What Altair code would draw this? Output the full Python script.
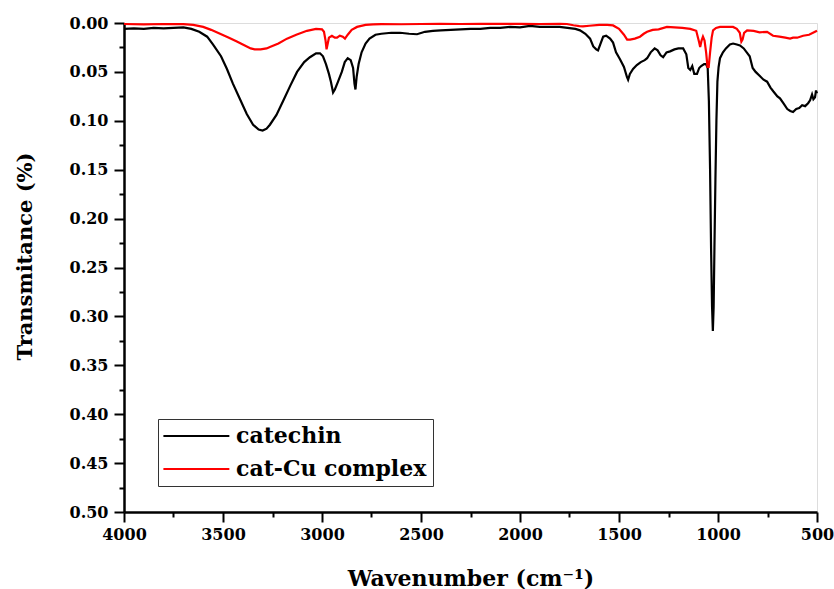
import altair as alt
import pandas as pd

# catechin spectrum (wavenumber, transmitance)
cat_wn = [4000, 3950, 3900, 3850, 3800, 3750, 3700, 3660, 3620, 3580, 3550, 3510, 3480, 3450, 3414, 3380,
          3348, 3320, 3300, 3280, 3263, 3230, 3197, 3160, 3126, 3090, 3061, 3030, 3010, 2995, 2980, 2965,
          2955, 2944, 2935, 2919, 2900, 2885, 2870, 2855, 2843, 2836, 2831, 2825, 2815, 2800, 2780, 2760,
          2730, 2700, 2650, 2606, 2560, 2520, 2480, 2440, 2400, 2350, 2300, 2250, 2200, 2150, 2100, 2050,
          2000, 1950, 1900, 1850, 1800, 1760, 1720, 1697, 1670, 1646, 1630, 1615, 1606, 1595, 1580, 1565,
          1545, 1530, 1515, 1495, 1475, 1460, 1454, 1445, 1429, 1410, 1390, 1370, 1358, 1340, 1320, 1305,
          1290, 1277, 1260, 1242, 1220, 1200, 1176, 1160, 1150, 1140, 1130, 1120, 1106, 1095, 1085, 1070,
          1060, 1052, 1046, 1040, 1035, 1030, 1026, 1022, 1018, 1013, 1008, 1003, 997, 990, 975, 960,
          940, 924, 905, 889, 870, 855, 840, 825, 810, 790, 770, 752, 735, 720, 700, 687,
          670, 650, 635, 621, 605, 590, 575, 560, 545, 535, 525, 518, 510, 505, 500]
cat_t = [0.006, 0.0055, 0.006, 0.005, 0.0055, 0.005, 0.0045, 0.006, 0.009, 0.014, 0.022, 0.034, 0.047, 0.062, 0.078, 0.093,
         0.104, 0.109, 0.110, 0.108, 0.104, 0.094, 0.080, 0.064, 0.050, 0.040, 0.035, 0.031, 0.031, 0.034, 0.042, 0.052,
         0.060, 0.071, 0.068, 0.060, 0.050, 0.040, 0.036, 0.038, 0.046, 0.062, 0.068, 0.055, 0.042, 0.030, 0.021, 0.016,
         0.012, 0.011, 0.010, 0.010, 0.011, 0.0115, 0.009, 0.008, 0.0075, 0.007, 0.0065, 0.006, 0.006, 0.005, 0.005, 0.004,
         0.0045, 0.003, 0.004, 0.004, 0.004, 0.005, 0.006, 0.0075, 0.011, 0.016, 0.024, 0.027, 0.028, 0.022, 0.014, 0.013,
         0.016, 0.020, 0.030, 0.037, 0.045, 0.055, 0.058, 0.052, 0.047, 0.043, 0.040, 0.038, 0.036, 0.030, 0.026, 0.028,
         0.033, 0.035, 0.030, 0.029, 0.027, 0.026, 0.026, 0.032, 0.046, 0.048, 0.044, 0.052, 0.052, 0.046, 0.044, 0.042,
         0.042, 0.046, 0.080, 0.150, 0.230, 0.290, 0.315, 0.290, 0.230, 0.160, 0.100, 0.060, 0.045, 0.036, 0.030, 0.026,
         0.022, 0.021, 0.022, 0.023, 0.026, 0.030, 0.034, 0.046, 0.050, 0.054, 0.058, 0.060, 0.066, 0.070, 0.075, 0.077,
         0.082, 0.088, 0.090, 0.091, 0.088, 0.087, 0.084, 0.085, 0.082, 0.079, 0.073, 0.078, 0.076, 0.069, 0.072]

# cat-Cu complex spectrum
cu_wn = [4000, 3900, 3800, 3700, 3650, 3600, 3560, 3515, 3470, 3430, 3390, 3360, 3340, 3310, 3280, 3263,
         3220, 3177, 3130, 3076, 3030, 3000, 2990, 2982, 2977, 2972, 2965, 2950, 2935, 2924, 2910, 2895,
         2884, 2870, 2850, 2823, 2780, 2742, 2700, 2600, 2500, 2404, 2300, 2200, 2100, 2000, 1900, 1800,
         1763, 1730, 1700, 1682, 1650, 1600, 1560, 1530, 1500, 1475, 1459, 1444, 1420, 1394, 1375, 1358,
         1330, 1300, 1258, 1220, 1180, 1140, 1110, 1095, 1090, 1083, 1076, 1068, 1060, 1053, 1047, 1040,
         1032, 1025, 1010, 990, 960, 924, 905, 890, 882, 876, 868, 853, 820, 790, 752, 722,
         690, 660, 636, 621, 600, 570, 540, 510, 500]
cu_t = [0.001, 0.0015, 0.001, 0.0012, 0.002, 0.004, 0.007, 0.011, 0.015, 0.019, 0.023, 0.026, 0.027, 0.027, 0.026, 0.0245,
        0.021, 0.016, 0.012, 0.008, 0.006, 0.0065, 0.009, 0.018, 0.027, 0.022, 0.015, 0.013, 0.015, 0.015, 0.013, 0.014,
        0.016, 0.012, 0.007, 0.004, 0.002, 0.0015, 0.0012, 0.0013, 0.001, 0.0008, 0.001, 0.0008, 0.0009, 0.0008, 0.001, 0.0008,
        0.001, 0.0023, 0.0032, 0.0034, 0.0028, 0.002, 0.002, 0.0025, 0.006, 0.012, 0.017, 0.017, 0.016, 0.014, 0.011, 0.009,
        0.007, 0.0065, 0.004, 0.0045, 0.005, 0.006, 0.008, 0.020, 0.0245, 0.018, 0.014, 0.018, 0.030, 0.045, 0.045, 0.030,
        0.015, 0.0075, 0.005, 0.004, 0.004, 0.004, 0.006, 0.010, 0.019, 0.017, 0.010, 0.0075, 0.008, 0.0095, 0.009, 0.013,
        0.014, 0.015, 0.016, 0.015, 0.015, 0.013, 0.012, 0.009, 0.008]

series_names = ["catechin", "cat-Cu complex"]
series_colors = ["#000000", "#ff0000"]

x_ticks = [500 + 250 * i for i in range(15)]
y_ticks = [round(0.025 * i, 3) for i in range(21)]

rows = []
for i, (w, t) in enumerate(zip(cat_wn, cat_t)):
    rows.append({"wn": w, "t": t, "series": series_names[0], "idx": i})
for i, (w, t) in enumerate(zip(cu_wn, cu_t)):
    rows.append({"wn": w, "t": t, "series": series_names[1], "idx": i})
df = pd.DataFrame(rows)

FONT = "DejaVu Serif"

x_axis = alt.Axis(
    values=x_ticks,
    labelExpr="datum.value % 500 == 0 ? format(datum.value, 'd') : ''",
    tickSize={"condition": {"test": "datum.value % 500 == 0", "value": 10}, "value": 5},
    tickWidth=2, tickColor="black", domainWidth=2.5, domainColor="black",
    labelFont=FONT, labelFontSize=16, labelFontWeight="bold", labelColor="black",
    labelPadding=4, labelFlush=False, labelOverlap=False, grid=False,
    title="Wavenumber (cm⁻¹)", titleFont=FONT, titleFontSize=22, titleFontWeight="bold",
    titleColor="black", titleY=66, titleBaseline="middle",
)
y_axis = alt.Axis(
    values=y_ticks,
    labelExpr="round(datum.value * 1000) % 50 == 0 ? format(datum.value, '.2f') : ''",
    tickSize={"condition": {"test": "round(datum.value * 1000) % 50 == 0", "value": 10}, "value": 5},
    tickWidth=2, tickColor="black", domainWidth=2.5, domainColor="black",
    labelFont=FONT, labelFontSize=16, labelFontWeight="bold", labelColor="black",
    labelPadding=6, labelFlush=False, labelOverlap=False, grid=False,
    title="Transmitance (%)", titleFont=FONT, titleFontSize=21, titleFontWeight="bold",
    titleColor="black", titleX=-99, titleY=233, titleAlign="center", titleBaseline="middle",
)

chart = alt.Chart(df).mark_line(strokeWidth=2.2).encode(
    x=alt.X("wn:Q", scale=alt.Scale(domain=[500, 4000], reverse=True, nice=False, zero=False), axis=x_axis),
    y=alt.Y("t:Q", scale=alt.Scale(domain=[0, 0.5], reverse=True, nice=False), axis=y_axis),
    color=alt.Color(
        "series:N",
        scale=alt.Scale(domain=series_names, range=series_colors),
        legend=alt.Legend(
            title=None, orient="none", legendX=34, legendY=396,
            symbolType="M-1,0H9", symbolSize=174, symbolStrokeWidth=2,
            symbolOffset=-5,
            labelFont=FONT, labelFontSize=22, labelFontWeight="bold", labelColor="black",
            labelOffset=55, labelLimit=400, padding=6, rowPadding=11,
            strokeColor="#333333", fillColor="white",
        ),
    ),
    order="idx:Q",
).properties(
    width=693, height=489,
    autosize=alt.AutoSizeParams(type="none"),
    padding={"left": 124, "top": 23, "right": 17, "bottom": 77},
).configure_view(stroke=None).configure(background="white")

chart.save("out.html", embed_options={"renderer": "svg", "actions": False})
